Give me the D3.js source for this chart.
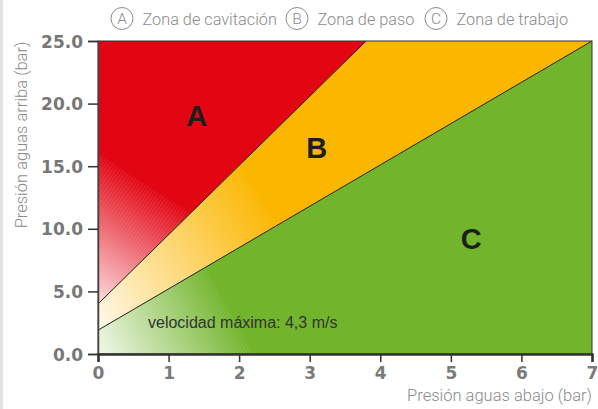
<!DOCTYPE html>
<html><head><meta charset="utf-8">
<script src="https://cdn.jsdelivr.net/npm/d3@7"></script>
<style>body{margin:0;background:#fff}svg{display:block}</style>
</head><body>
<svg id="c" width="598" height="409"></svg>
<script>
// ---- data ----
const xTicks = [0,1,2,3,4,5,6,7];
const yTicks = [0,5,10,15,20,25];
const legendKeys = ["A","B","C"];
const legendLabels = ["Zona de cavitación","Zona de paso","Zona de trabajo"];
const zoneColors = ["#e20613","#fbb600","#72b52d"];
const upperLine = [[0,4],[3.8,25]];
const lowerLine = [[0,1.9],[7,25]];
const zoneA = [[0,4],[3.8,25],[0,25]];
const zoneB = [[0,1.9],[0,4],[3.8,25],[7,25]];
const zoneC = [[0,0],[0,1.9],[7,25],[7,0]];
// fade polygons: far corner first, last two points = boundary
const fadeA = [[0,4],[0,16],[1.31,11.24]];
const fadeB = [[0,1.9],[0,4],[2,15.05],[2.53,10.25]];
const fadeC = [[0,0],[0,1.9],[1.52,6.92],[2.2,0]];
const zoneLabels = [{t:"A",x:1.4,y:18.2},{t:"B",x:3.1,y:15.65},{t:"C",x:5.29,y:8.4}];
const noteText = "velocidad máxima: 4,3 m/s";
const xTitle = "Presión aguas abajo (bar)";
const yTitle = "Presión aguas arriba (bar)";

const svg = d3.select("#c");
const x = d3.scaleLinear().domain([0,7]).range([98,592]);
const y = d3.scaleLinear().domain([0,25]).range([354,41]);
const P = p => [x(p[0]), y(p[1])];
const poly = pts => "M" + pts.map(P).map(d=>d.join(",")).join("L") + "Z";

svg.append("rect").attr("x",0).attr("y",0).attr("width",3).attr("height",409).attr("fill","#e2e2e2");

const defs = svg.append("defs");
const pat = defs.append("pattern").attr("id","hatch").attr("patternUnits","userSpaceOnUse")
  .attr("width",3).attr("height",3).attr("patternTransform","rotate(35)");
pat.append("line").attr("x1",0).attr("y1",0).attr("x2",0).attr("y2",3)
  .attr("stroke","#fff").attr("stroke-width",1).attr("stroke-opacity",0.18);

[zoneA,zoneB,zoneC].forEach((z,i)=>{
  svg.append("path").attr("d",poly(z)).attr("fill",zoneColors[i]);
});

const fadeLight = [0.86,0.92,0.9];
[fadeA,fadeB,fadeC].forEach((f,i)=>{
  const far = P(f[0]);
  const b1 = P(f[f.length-2]), b2 = P(f[f.length-1]);
  const dx=b2[0]-b1[0], dy=b2[1]-b1[1];
  const t=((far[0]-b1[0])*dx+(far[1]-b1[1])*dy)/(dx*dx+dy*dy);
  const proj=[b1[0]+t*dx,b1[1]+t*dy];
  const g = defs.append("linearGradient").attr("id","g"+i).attr("gradientUnits","userSpaceOnUse")
    .attr("x1",far[0]).attr("y1",far[1]).attr("x2",proj[0]).attr("y2",proj[1]);
  g.append("stop").attr("offset",0).attr("stop-color",d3.interpolateRgb(zoneColors[i],"#fff")(fadeLight[i]));
  g.append("stop").attr("offset",1).attr("stop-color",zoneColors[i]);
  svg.append("path").attr("d",poly(f)).attr("fill","url(#g"+i+")");
  svg.append("path").attr("d",poly(f)).attr("fill","url(#hatch)");
});

const line = d3.line().x(d=>x(d[0])).y(d=>y(d[1]));
[upperLine,lowerLine].forEach(l=>{
  svg.append("path").attr("d",line(l)).attr("fill","none").attr("stroke","#222").attr("stroke-width",1);
});

// border
svg.append("rect").attr("x",x(0)).attr("y",y(25)).attr("width",x(7)-x(0)).attr("height",y(0)-y(25))
  .attr("fill","none").attr("stroke","#333").attr("stroke-width",1);

// axes
const ya = svg.append("g").attr("transform",`translate(${x(0)},0)`)
  .call(d3.axisLeft(y).tickValues(yTicks).tickFormat(d3.format(".1f")).tickSize(10).tickPadding(5));
ya.select(".domain").attr("stroke","#444").attr("stroke-width",1.5);
ya.selectAll(".tick line").attr("stroke","#333").attr("stroke-width",1.5);
ya.selectAll("text").attr("font-family","DejaVu Sans, sans-serif").attr("font-weight","bold")
  .attr("font-size",17).attr("fill","#777").attr("dy","0.36em");

const xa = svg.append("g").attr("transform",`translate(0,${y(0)})`)
  .call(d3.axisBottom(x).tickValues(xTicks).tickFormat(d3.format("d")).tickSize(8).tickPadding(5));
xa.select(".domain").attr("stroke","#333").attr("stroke-width",2.5);
xa.selectAll(".tick line").attr("stroke","#333").attr("stroke-width",1.5);
xa.selectAll("text").attr("font-family","DejaVu Sans, sans-serif").attr("font-weight","bold")
  .attr("font-size",17).attr("fill","#7a7a7a");

// zone labels
svg.selectAll(".zl").data(zoneLabels).enter().append("text")
  .attr("x",d=>x(d.x)).attr("y",d=>y(d.y)).attr("text-anchor","middle")
  .attr("font-family","Liberation Sans, Arial, sans-serif").attr("font-weight","bold")
  .attr("font-size",29).attr("fill","#1e1e1e").text(d=>d.t);

svg.append("text").attr("x",148).attr("y",328).attr("font-family","Liberation Sans, Arial, sans-serif")
  .attr("font-size",16).attr("fill","#333").text(noteText);

// titles
svg.append("text").attr("x",592).attr("y",401).attr("text-anchor","end")
  .attr("font-family","Roboto, sans-serif").attr("font-weight",300).attr("font-size",16.5).attr("fill","#8a8a8a").text(xTitle);
svg.append("text").attr("transform","translate(27,135) rotate(-90)").attr("text-anchor","middle")
  .attr("font-family","Roboto, sans-serif").attr("font-weight",300).attr("font-size",16.5).attr("fill","#8a8a8a").text(yTitle);

// legend
const legX = [122,297,436];
legendKeys.forEach((k,i)=>{
  const g = svg.append("g").attr("transform",`translate(${legX[i]},18.5)`);
  g.append("circle").attr("r",11).attr("fill","none").attr("stroke","#8a8a8a").attr("stroke-width",1);
  g.append("text").attr("y",5.5).attr("text-anchor","middle").attr("font-family","Roboto, sans-serif")
    .attr("font-weight",300).attr("font-size",15.5).attr("fill","#8a8a8a").text(k);
  g.append("text").attr("x",20.5).attr("y",6).attr("font-family","Roboto, sans-serif")
    .attr("font-weight",300).attr("font-size",16.3).attr("fill","#8a8a8a").text(legendLabels[i]);
});
</script>
</body></html>
